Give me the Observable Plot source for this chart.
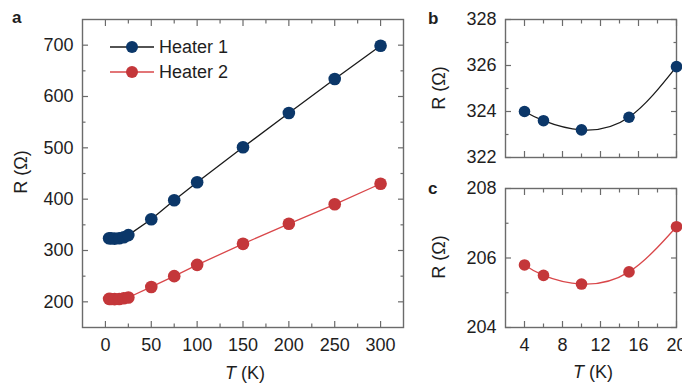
<!DOCTYPE html>
<html>
<head>
<meta charset="utf-8">
<script src="https://cdn.jsdelivr.net/npm/d3@7"></script>
<script src="https://cdn.jsdelivr.net/npm/@observablehq/plot@0.6"></script>
<style>
  html, body { margin: 0; padding: 0; background: #fff; }
  #wrap { position: relative; width: 682px; height: 385px; overflow: hidden; font-family: "Liberation Sans", Arial, sans-serif; }
  #wrap svg { position: absolute; overflow: visible; }
</style>
</head>
<body>
<div id="wrap"></div>
<script>
// ---- Data ----
const tempA   = [4, 6, 10, 15, 20, 25, 50, 75, 100, 150, 200, 250, 300];
const heater1 = [324.0, 323.6, 323.2, 323.75, 325.95, 330, 361, 398, 433, 501, 568, 634, 699];
const heater2 = [205.8, 205.5, 205.25, 205.6, 206.9, 208.5, 229, 250, 272, 313, 352, 390, 430];

const tempLow    = [4, 6, 10, 15, 20];
const heater1Low = [324.0, 323.6, 323.2, 323.75, 325.95];
const heater2Low = [205.8, 205.5, 205.25, 205.6, 206.9];

// tick values
const xMajorA = [0, 50, 100, 150, 200, 250, 300];
const xMinorA = [25, 75, 125, 175, 225, 275];
const yMajorA = [200, 300, 400, 500, 600, 700];
const yMinorA = [250, 350, 450, 550, 650];

const xMajorLow = [4, 8, 12, 16, 20];
const xMinorLow = [6, 10, 14, 18];
const yMajorB = [322, 324, 326, 328];
const yMinorB = [323, 325, 327];
const yMajorC = [204, 206, 208];
const yMinorC = [205, 207];

const seriesNames = ["Heater 1", "Heater 2"];

// ---- Styles ----
const BLUE = "#0b3769";
const RED = "#c4373a";
const LINE1 = "#1a1a1a";
const LINE2 = "#d9474a";
const AX = "#6b6b6b";
const TXT = "#1e1e1e";
const FONT = "Liberation Sans, Arial, sans-serif";

const rowsA1 = tempA.map((t, i) => ({T: t, R: heater1[i]}));
const rowsA2 = tempA.map((t, i) => ({T: t, R: heater2[i]}));
const rowsB = tempLow.map((t, i) => ({T: t, R: heater1Low[i]}));
const rowsC = tempLow.map((t, i) => ({T: t, R: heater2Low[i]}));

function frameAxes(xMaj, xMin, yMaj, yMin, showXLabels) {
  const blank = () => "";
  const common = {stroke: AX, strokeWidth: 1.2, fill: TXT, label: null};
  return [
    Plot.frame({stroke: AX, strokeWidth: 1.4}),
    Plot.axisX(xMaj, {...common, anchor: "bottom", tickSize: -6, tickPadding: 17, tickFormat: showXLabels ? (d => String(d)) : blank}),
    Plot.axisX(xMin, {...common, anchor: "bottom", tickSize: -3.5, tickFormat: blank}),
    Plot.axisX(xMaj, {...common, anchor: "top", tickSize: -6, tickFormat: blank}),
    Plot.axisX(xMin, {...common, anchor: "top", tickSize: -3.5, tickFormat: blank}),
    Plot.axisY(yMaj, {...common, anchor: "left", tickSize: -6, tickPadding: 15, tickFormat: d => String(d)}),
    Plot.axisY(yMin, {...common, anchor: "left", tickSize: -3.5, tickFormat: blank}),
    Plot.axisY(yMaj, {...common, anchor: "right", tickSize: -6, tickFormat: blank}),
    Plot.axisY(yMin, {...common, anchor: "right", tickSize: -3.5, tickFormat: blank})
  ];
}

const wrap = document.getElementById("wrap");

function place(svg, left, top) {
  svg.style.left = left + "px";
  svg.style.top = top + "px";
  wrap.appendChild(svg);
  return d3.select(svg);
}

function addText(sel, x, y, parts, opts = {}) {
  const t = sel.append("text")
    .attr("x", x).attr("y", y)
    .attr("fill", TXT)
    .attr("font-family", FONT)
    .attr("font-size", opts.size || 18)
    .attr("font-weight", opts.weight || "normal")
    .attr("text-anchor", opts.anchor || "middle");
  if (opts.rotate) t.attr("transform", `rotate(-90 ${x} ${y})`);
  for (const p of parts) {
    t.append("tspan").attr("font-style", p.italic ? "italic" : "normal").text(p.text);
  }
  return t;
}

const plotStyle = {fontFamily: FONT, fontSize: "18px", color: TXT, background: "transparent"};

// ---- Panel a ----
const plotA = Plot.plot({
  width: 415, height: 385,
  marginLeft: 82, marginRight: 12, marginTop: 19, marginBottom: 58,
  x: {domain: [-25, 325]},
  y: {domain: [150, 750]},
  style: plotStyle,
  marks: [
    ...frameAxes(xMajorA, xMinorA, yMajorA, yMinorA, true),
    Plot.line(rowsA2, {x: "T", y: "R", stroke: LINE2, strokeWidth: 1.3}),
    Plot.line(rowsA1, {x: "T", y: "R", stroke: LINE1, strokeWidth: 1.3}),
    Plot.dot(rowsA2, {x: "T", y: "R", r: 6.3, fill: RED, stroke: "none"}),
    Plot.dot(rowsA1, {x: "T", y: "R", r: 6.3, fill: BLUE, stroke: "none"})
  ]
});
const sa = place(plotA, 0, 0);
addText(sa, 12, 23, [{text: "a"}], {weight: "bold", size: 17, anchor: "start"});
addText(sa, 27, 172, [{text: "R (Ω)"}], {rotate: true});
addText(sa, 245, 379, [{text: "T", italic: true}, {text: " (K)"}]);
// legend
const legend = [[seriesNames[0], LINE1, BLUE, 47], [seriesNames[1], LINE2, RED, 72]];
for (const [name, lc, fc, y] of legend) {
  sa.append("line").attr("x1", 110).attr("x2", 154).attr("y1", y).attr("y2", y)
    .attr("stroke", lc).attr("stroke-width", 1.5);
  sa.append("circle").attr("cx", 132).attr("cy", y).attr("r", 6).attr("fill", fc);
  addText(sa, 159, y + 6, [{text: name}], {anchor: "start", size: 18});
}

// ---- Panel b ----
const plotB = Plot.plot({
  width: 262, height: 170,
  marginLeft: 85, marginRight: 6, marginTop: 19, marginBottom: 13,
  x: {domain: [2, 20]},
  y: {domain: [322, 328]},
  style: plotStyle,
  marks: [
    ...frameAxes(xMajorLow, xMinorLow, yMajorB, yMinorB, false),
    Plot.line(rowsB, {x: "T", y: "R", stroke: LINE1, strokeWidth: 1.3, curve: "natural"}),
    Plot.dot(rowsB, {x: "T", y: "R", r: 5.8, fill: BLUE, stroke: "none"})
  ]
});
const sb = place(plotB, 420, 0);
addText(sb, 8, 24, [{text: "b"}], {weight: "bold", size: 17, anchor: "start"});
addText(sb, 25, 88, [{text: "R (Ω)"}], {rotate: true});

// ---- Panel c ----
const plotC = Plot.plot({
  width: 262, height: 215,
  marginLeft: 85, marginRight: 6, marginTop: 18, marginBottom: 58,
  x: {domain: [2, 20]},
  y: {domain: [204, 208]},
  style: plotStyle,
  marks: [
    ...frameAxes(xMajorLow, xMinorLow, yMajorC, yMinorC, true),
    Plot.line(rowsC, {x: "T", y: "R", stroke: LINE2, strokeWidth: 1.3, curve: "natural"}),
    Plot.dot(rowsC, {x: "T", y: "R", r: 5.8, fill: RED, stroke: "none"})
  ]
});
const sc = place(plotC, 420, 170);
addText(sc, 8, 24, [{text: "c"}], {weight: "bold", size: 17, anchor: "start"});
addText(sc, 25, 87, [{text: "R (Ω)"}], {rotate: true});
addText(sc, 173, 208, [{text: "T", italic: true}, {text: " (K)"}]);
</script>
</body>
</html>
